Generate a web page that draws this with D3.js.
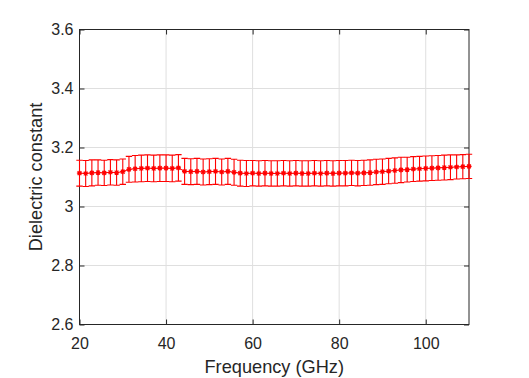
<!doctype html>
<html>
<head>
<meta charset="utf-8">
<title>Dielectric constant</title>
<style>
  body { margin: 0; background: #fff; }
  svg { display: block; font-family: "Liberation Sans", Arial, sans-serif; }
</style>
</head>
<body>
<svg width="529" height="378"></svg>
<script src="https://cdn.jsdelivr.net/npm/d3@7"></script>
<script>
// measured points, 64 frequencies evenly spaced 20..110 GHz
var freqStart = 20, freqEnd = 110, nPts = 64;
var eps = [
  3.113, 3.112, 3.114, 3.115, 3.114, 3.116, 3.115, 3.118,
  3.126, 3.128, 3.129, 3.130, 3.129, 3.130, 3.130, 3.129, 3.131,
  3.119, 3.118, 3.119, 3.117, 3.118, 3.119, 3.117, 3.119, 3.116,
  3.113, 3.112, 3.113, 3.112, 3.113, 3.112, 3.112, 3.113, 3.112, 3.113,
  3.112, 3.112, 3.113, 3.112, 3.113, 3.112, 3.113, 3.113, 3.114, 3.113,
  3.114, 3.115, 3.117, 3.118, 3.120, 3.122, 3.124,
  3.125, 3.127, 3.128, 3.129, 3.130, 3.131, 3.132, 3.133, 3.134, 3.135, 3.136
];
var errs = [
  0.044, 0.044, 0.044, 0.043, 0.043, 0.043, 0.043, 0.043,
  0.044, 0.045, 0.045, 0.045, 0.045, 0.045, 0.045, 0.045, 0.045,
  0.044, 0.044, 0.044, 0.044, 0.044, 0.044, 0.044, 0.044, 0.044,
  0.044, 0.044, 0.043, 0.043, 0.043, 0.043, 0.043, 0.043, 0.043, 0.043,
  0.043, 0.043, 0.043, 0.043, 0.043, 0.043, 0.043, 0.043, 0.043, 0.043,
  0.043, 0.043, 0.043, 0.043, 0.043, 0.043, 0.043,
  0.042, 0.042, 0.042, 0.042, 0.042, 0.042, 0.042, 0.042, 0.041, 0.041, 0.041
];
var xTicks = [20, 40, 60, 80, 100];
var yTicks = [2.6, 2.8, 3, 3.2, 3.4, 3.6];

var freqs = d3.range(nPts).map(function(i) { return freqStart + i * (freqEnd - freqStart) / (nPts - 1); });
var data = freqs.map(function(f, i) { return { f: f, v: eps[i], e: errs[i] }; });

var svg = d3.select("svg"),
    margin = { top: 29.5, right: 60, bottom: 53.5, left: 79.5 },
    width = +svg.attr("width") - margin.left - margin.right,
    height = +svg.attr("height") - margin.top - margin.bottom,
    g = svg.append("g").attr("transform", "translate(" + margin.left + "," + margin.top + ")");

var axisColor = "#262626";
var red = "#ff0000";

var x = d3.scaleLinear().domain([20, 110]).range([0, width]);
var y = d3.scaleLinear().domain([2.6, 3.6]).range([height, 0]);

// grid
g.append("g").selectAll("line.gx").data(xTicks).enter().append("line")
    .attr("x1", function(d) { return x(d); }).attr("x2", function(d) { return x(d); })
    .attr("y1", 0).attr("y2", height)
    .attr("stroke", "#dfdfdf").attr("stroke-width", 1);
g.append("g").selectAll("line.gy").data(yTicks).enter().append("line")
    .attr("y1", function(d) { return y(d); }).attr("y2", function(d) { return y(d); })
    .attr("x1", 0).attr("x2", width)
    .attr("stroke", "#dfdfdf").attr("stroke-width", 1);

// axes (ticks inside)
var xAxis = d3.axisBottom(x).tickValues(xTicks).tickSizeInner(-5).tickSizeOuter(0).tickPadding(13).tickFormat(d3.format("d"));
var yAxis = d3.axisLeft(y).tickValues(yTicks).tickSizeInner(-5).tickSizeOuter(0).tickPadding(6).tickFormat(function(d) { return d3.format("")(+d.toFixed(1)); });

var xg = g.append("g").attr("transform", "translate(0," + height + ")").call(xAxis);
var yg = g.append("g").call(yAxis);
var xTop = g.append("g").call(d3.axisTop(x).tickValues(xTicks).tickSizeInner(-5).tickSizeOuter(0).tickFormat(""));
var yRight = g.append("g").attr("transform", "translate(" + width + ",0)")
    .call(d3.axisRight(y).tickValues(yTicks).tickSizeInner(-5).tickSizeOuter(0).tickFormat(""));

[xg, yg, xTop, yRight].forEach(function(a) {
    a.select(".domain").remove();
    a.selectAll("line").attr("stroke", axisColor);
    a.selectAll("text").attr("fill", axisColor).style("font-size", "16px").style("font-family", "Liberation Sans, Arial, sans-serif");
});
xg.selectAll("text").attr("dy", "0.71em");

g.append("rect").attr("x", 0).attr("y", 0).attr("width", width).attr("height", height)
    .attr("fill", "none").attr("stroke", axisColor).attr("stroke-width", 1);

// error bars
var cap = 3.2;
var eb = g.append("g").attr("stroke", red).attr("stroke-width", 1.1).attr("fill", "none");
eb.selectAll("path").data(data).enter().append("path")
    .attr("d", function(d) {
        var cx = x(d.f), t = y(d.v + d.e), b = y(d.v - d.e);
        return "M" + cx + "," + t + "V" + b +
            "M" + (cx - cap) + "," + t + "H" + (cx + cap) +
            "M" + (cx - cap) + "," + b + "H" + (cx + cap);
    });

// line
g.append("path").datum(data)
    .attr("fill", "none").attr("stroke", red).attr("stroke-width", 1)
    .attr("d", d3.line().x(function(d) { return x(d.f); }).y(function(d) { return y(d.v); }));

// star markers
var m = 2.6, md = 1.9;
g.append("g").attr("stroke", red).attr("stroke-width", 1.2).attr("fill", "none")
  .selectAll("path").data(data).enter().append("path")
    .attr("d", function(d) {
        var cx = x(d.f), cy = y(d.v);
        return "M" + (cx - m) + "," + cy + "H" + (cx + m) +
            "M" + cx + "," + (cy - m) + "V" + (cy + m) +
            "M" + (cx - md) + "," + (cy - md) + "L" + (cx + md) + "," + (cy + md) +
            "M" + (cx - md) + "," + (cy + md) + "L" + (cx + md) + "," + (cy - md);
    });

// labels
svg.append("text")
    .attr("x", margin.left + width / 2).attr("y", 372.5)
    .attr("text-anchor", "middle").attr("fill", axisColor)
    .style("font-size", "18.2px")
    .text("Frequency (GHz)");
svg.append("text")
    .attr("transform", "translate(42," + (margin.top + height / 2) + ") rotate(-90)")
    .attr("text-anchor", "middle").attr("fill", axisColor)
    .style("font-size", "18.2px")
    .text("Dielectric constant");
</script>
</body>
</html>
